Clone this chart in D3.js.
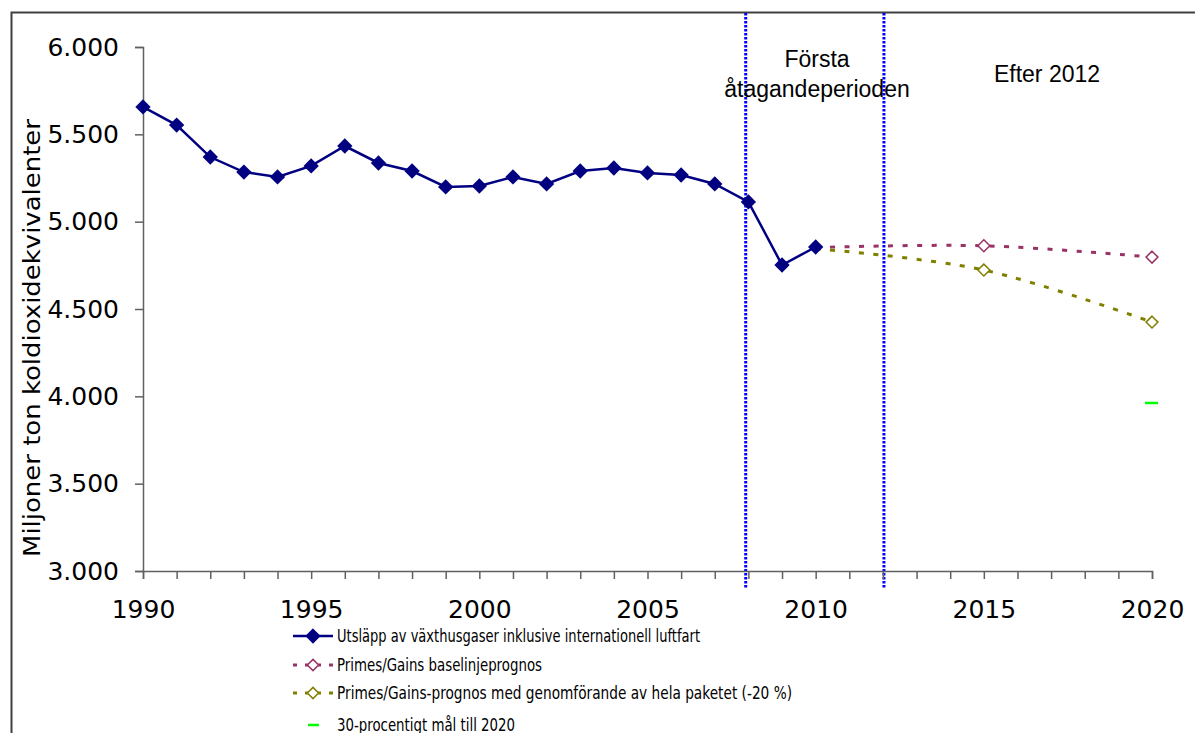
<!DOCTYPE html>
<html>
<head>
<meta charset="utf-8">
<script src="https://cdn.jsdelivr.net/npm/d3@7"></script>
<style>
  body { margin: 0; background: #fff; }
  svg { display: block; }
</style>
</head>
<body>
<script>
const svgWidth = 1195; //Width of SVG.
const svgHeight = 733; //Height of SVG.

//Data.
const years = [1990, 1991, 1992, 1993, 1994, 1995, 1996, 1997, 1998, 1999, 2000,
  2001, 2002, 2003, 2004, 2005, 2006, 2007, 2008, 2009, 2010];
const emissions = [5657, 5553, 5370, 5284, 5256, 5319, 5433, 5336, 5290, 5199, 5204,
  5256, 5216, 5290, 5307, 5279, 5267, 5216, 5113, 4752, 4855];
const projYears = [2010, 2015, 2020];
const baseline = [4852, 4862, 4797];
const packageCase = [4845, 4723, 4425];
const targetYears = [2020];
const target = [3962];
const periodLines = [2007.92, 2012.03]; //Vertical period dividers.
const yTicks = [3000, 3500, 4000, 4500, 5000, 5500, 6000];
const xLabelYears = [1990, 1995, 2000, 2005, 2010, 2015, 2020];

const legendLabels = [
  "Utsläpp av växthusgaser inklusive internationell luftfart",
  "Primes/Gains baselinjeprognos",
  "Primes/Gains-prognos med genomförande av hela paketet (-20 %)",
  "30-procentigt mål till 2020"
];

const plotLeft = 143, plotRight = 1152, plotTop = 47, plotBottom = 571;

const xScale = d3.scaleLinear().domain([1990, 2020]).range([plotLeft, plotRight]);
const yScale = d3.scaleLinear().domain([3000, 6000]).range([plotBottom, plotTop]);

const svg = d3.select("body").append("svg")
  .attr("width", svgWidth)
  .attr("height", svgHeight);

//Outer frame of the chart object.
svg.append("rect")
  .attr("x", 11.5).attr("y", 12.5)
  .attr("width", 1300).attr("height", 900)
  .attr("fill", "none")
  .attr("stroke", "#404040")
  .attr("stroke-width", 2);

//Period divider lines.
svg.selectAll(".period")
  .data(periodLines)
  .enter().append("line")
  .attr("class", "period")
  .attr("x1", d => xScale(d)).attr("x2", d => xScale(d))
  .attr("y1", 13).attr("y2", plotBottom + 17)
  .attr("stroke", "#0000ff")
  .attr("stroke-width", 3)
  .attr("stroke-dasharray", "2.5,1.5");

//Axes.
const xAxis = d3.axisBottom(xScale)
  .tickValues(d3.range(1990, 2021))
  .tickSize(8)
  .tickFormat(d => xLabelYears.includes(d) ? d : "");

const yAxis = d3.axisLeft(yScale)
  .tickValues(yTicks)
  .tickSize(8)
  .tickFormat(d => d3.format(",")(d).replace(",", "."));

svg.append("g")
  .attr("transform", "translate(0," + plotBottom + ")")
  .call(xAxis)
  .call(g => g.select(".domain").attr("stroke", "#606060").attr("stroke-width", 1.5))
  .call(g => g.selectAll(".tick line").attr("stroke", "#606060").attr("stroke-width", 1.5))
  .call(g => g.selectAll(".tick text")
    .attr("font-family", "DejaVu Sans, Verdana, sans-serif")
    .attr("font-size", 25)
    .attr("fill", "#000")
    .attr("dy", "1.42em"));

svg.append("g")
  .attr("transform", "translate(" + plotLeft + ",0)")
  .call(yAxis)
  .call(g => g.select(".domain").attr("stroke", "#606060").attr("stroke-width", 1.5))
  .call(g => g.selectAll(".tick line").attr("stroke", "#606060").attr("stroke-width", 1.5))
  .call(g => g.selectAll(".tick text")
    .attr("font-family", "DejaVu Sans, Verdana, sans-serif")
    .attr("font-size", 25)
    .attr("fill", "#000")
    .attr("x", -24));

//Y-axis title.
svg.append("text")
  .attr("transform", "translate(40,338) rotate(-90)")
  .attr("text-anchor", "middle")
  .attr("font-family", "DejaVu Sans, Verdana, sans-serif")
  .attr("font-size", 23)
  .attr("textLength", 438)
  .attr("lengthAdjust", "spacingAndGlyphs")
  .text("Miljoner ton koldioxidekvivalenter");

//Period annotations.
const annot = svg.append("g")
  .attr("font-family", "Liberation Sans, Arial, sans-serif")
  .attr("font-size", 23)
  .attr("text-anchor", "middle");
annot.append("text").attr("x", 817).attr("y", 67).text("Första");
annot.append("text").attr("x", 817).attr("y", 97).text("åtagandeperioden");
annot.append("text").attr("x", 1047).attr("y", 82).text("Efter 2012");

const diamond = d3.symbol().type(d3.symbolDiamond2);

//Projection series (smoothed dashed lines, hollow diamonds).
function drawProjection(values, color) {
  const pts = projYears.map((y, i) => [xScale(y), yScale(values[i])]);
  svg.append("path")
    .attr("d", d3.line().curve(d3.curveCardinal.tension(0))(pts))
    .attr("fill", "none")
    .attr("stroke", color)
    .attr("stroke-width", 3)
    .attr("stroke-dasharray", "5,9.5");
  svg.selectAll(null)
    .data(pts.slice(1))
    .enter().append("path")
    .attr("transform", d => "translate(" + d[0] + "," + d[1] + ")")
    .attr("d", diamond.size(90)())
    .attr("fill", "#fff")
    .attr("stroke", color)
    .attr("stroke-width", 1.5);
}
drawProjection(baseline, "#993366");
drawProjection(packageCase, "#808000");

//Target marker.
svg.selectAll(".target")
  .data(targetYears)
  .enter().append("line")
  .attr("class", "target")
  .attr("x1", d => xScale(d) - 7).attr("x2", d => xScale(d) + 6)
  .attr("y1", (d, i) => yScale(target[i])).attr("y2", (d, i) => yScale(target[i]))
  .attr("stroke", "#00ff00")
  .attr("stroke-width", 2.5);

//Historic emissions.
const histLine = d3.line()
  .x((d, i) => xScale(years[i]))
  .y(d => yScale(d));

svg.append("path")
  .datum(emissions)
  .attr("d", histLine)
  .attr("fill", "none")
  .attr("stroke", "#000080")
  .attr("stroke-width", 2.5);

svg.selectAll(".hist")
  .data(emissions)
  .enter().append("path")
  .attr("class", "hist")
  .attr("transform", (d, i) => "translate(" + xScale(years[i]) + "," + yScale(d) + ")")
  .attr("d", diamond.size(150)())
  .attr("fill", "#000080");

//Legend.
const legendX = 293, legendRowsY = [636, 665, 693, 725];
const legendTextWidths = [363, 205, 455, 178]; //Text is drawn narrow in the original.
const legend = svg.append("g");
const legendStyles = [
  { color: "#000080", dash: null, marker: "filled" },
  { color: "#993366", dash: "4,8", marker: "hollow" },
  { color: "#808000", dash: "4,8", marker: "hollow" },
  { color: "#00ff00", dash: null, marker: "target" }
];
legendStyles.forEach((s, i) => {
  const y = legendRowsY[i];
  if (s.marker === "target") {
    legend.append("line")
      .attr("x1", legendX + 15).attr("x2", legendX + 26)
      .attr("y1", y).attr("y2", y)
      .attr("stroke", s.color).attr("stroke-width", 2.5);
  } else {
    legend.append("line")
      .attr("x1", legendX).attr("x2", legendX + 40)
      .attr("y1", y).attr("y2", y)
      .attr("stroke", s.color)
      .attr("stroke-width", s.dash ? 3 : 2.5)
      .attr("stroke-dasharray", s.dash);
    legend.append("path")
      .attr("transform", "translate(" + (legendX + 20) + "," + y + ")")
      .attr("d", diamond.size(s.marker === "filled" ? 110 : 80)())
      .attr("fill", s.marker === "filled" ? s.color : "#fff")
      .attr("stroke", s.color)
      .attr("stroke-width", 1.5);
  }
  legend.append("text")
    .attr("x", legendX + 44)
    .attr("y", y)
    .attr("dy", "0.36em")
    .attr("font-family", "DejaVu Sans, Verdana, sans-serif")
    .attr("font-size", 17.5)
    .attr("textLength", legendTextWidths[i])
    .attr("lengthAdjust", "spacingAndGlyphs")
    .text(legendLabels[i]);
});
</script>
</body>
</html>
